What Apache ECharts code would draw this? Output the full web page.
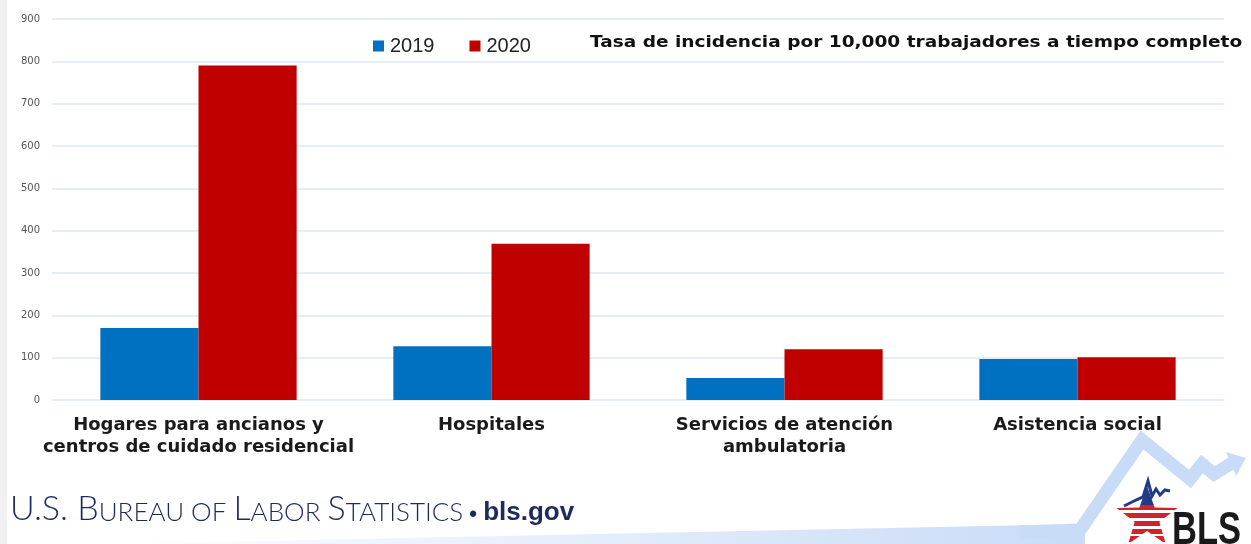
<!DOCTYPE html>
<html><head><meta charset="utf-8">
<script src="https://cdn.jsdelivr.net/npm/echarts@6/dist/echarts.min.js"></script>
<style>html,body{margin:0;padding:0;background:#fff}#c{width:1251px;height:544px}</style>
</head><body><div id="c"></div>
<script>
const categories = ['Hogares para ancianos y\ncentros de cuidado residencial', 'Hospitales', 'Servicios de atención\nambulatoria', 'Asistencia social'];
const values2019 = [170, 127, 52, 97];
const values2020 = [790, 369, 120, 101];
const seriesNames = ['2019', '2020'];
const yTicks = {min: 0, max: 900, interval: 100};
const chartTitle = 'Tasa de incidencia por 10,000 trabajadores a tiempo completo';

function starPoints(cx, cy, R, r) {
  const pts = [];
  for (let i = 0; i < 10; i++) {
    const ang = -Math.PI / 2 + i * Math.PI / 5;
    const rad = i % 2 === 0 ? R : r;
    pts.push([cx + rad * Math.cos(ang), cy + rad * Math.sin(ang)]);
  }
  return pts;
}

const chart = echarts.init(document.getElementById('c'), null, {renderer: 'canvas'});
const stripeStops = [{offset:0,color:'#1f3b8a'},{offset:0.33,color:'#1f3b8a'}];
(function(){
  let o = 0.33, red = true;
  while (o < 1) {
    const n = Math.min(1, o + (red ? 0.09 : 0.045));
    const c = red ? '#d2232a' : '#ffffff';
    stripeStops.push({offset:o,color:c},{offset:n,color:c});
    o = n; red = !red;
  }
})();

const option = {
  backgroundColor: '#ffffff',
  animation: false,
  grid: {left: 52, right: 27, top: 19, bottom: 144, containLabel: false},
  legend: {
    data: seriesNames, left: 368, top: 31, itemWidth: 11, itemHeight: 11, itemGap: 35,
    icon: 'rect',
    textStyle: {fontFamily: 'Liberation Sans', fontSize: 20, color: '#222', padding: [2,0,0,1]}
  },
  xAxis: {
    type: 'category', data: categories,
    axisLine: {show: false}, axisTick: {show: false},
    axisLabel: {interval: 0, margin: 14, fontFamily: 'DejaVu Sans', fontWeight: 'bold', fontSize: 18, color: '#1a1a1a', lineHeight: 22}
  },
  yAxis: {
    type: 'value', min: yTicks.min, max: yTicks.max, interval: yTicks.interval,
    axisLine: {show: false}, axisTick: {show: false},
    axisLabel: {fontFamily: 'DejaVu Sans', fontSize: 10, color: '#555', margin: 12},
    splitLine: {lineStyle: {color: '#dde7f5', width: 1.5}}
  },
  series: [
    {name: seriesNames[0], type: 'bar', data: values2019, barGap: '0%', barCategoryGap: '33%', itemStyle: {color: '#0070c0'}},
    {name: seriesNames[1], type: 'bar', data: values2020, barGap: '0%', barCategoryGap: '33%', itemStyle: {color: '#c00000'}}
  ],
  graphic: [
    {type: 'text', x: 590, y: 36, scaleX: 1.235, style: {text: chartTitle, fontFamily: 'DejaVu Sans', fontWeight: 'bold', fontSize: 15, fill: '#111'}, z: 5},
    {type: 'rect', left: 0, top: 0, shape: {width: 7, height: 544}, style: {fill: '#f1f1f1'}, z: -1},
    {type: 'polygon', shape: {points: [[110,544],[1085,524],[1085,544]]},
      style: {fill: new echarts.graphic.LinearGradient(0,0,1,0,[{offset:0,color:'rgba(200,218,245,0)'},{offset:1,color:'#c8dbf7'}])}, z: 0},
    {type: 'polyline', shape: {points: [[1020,532],[1080,530],[1142,440],[1190,479],[1202,464],[1214,474],[1232,463]]},
      style: {stroke: '#c8dbf7', lineWidth: 13, lineJoin: 'miter', fill: null}, z: 0},
    {type: 'polygon', shape: {points: [[1226,452],[1246,458],[1236,476]]}, style: {fill: '#c8dbf7'}, z: 0},
    {type: 'text', left: 10, top: 492, style: {
      text: '{a|U.S. B}{b|UREAU OF }{a|L}{b|ABOR }{a|S}{b|TATISTICS}{c| • }{d|bls.gov}',
      rich: {
        a: {fontFamily: 'Lato', fontWeight: 300, fontSize: 34, fill: '#1d2a5e', verticalAlign: 'bottom'},
        b: {fontFamily: 'Lato', fontWeight: 300, fontSize: 26, fill: '#1d2a5e', verticalAlign: 'bottom'},
        c: {fontFamily: 'Liberation Sans', fontWeight: 'bold', fontSize: 22, fill: '#1d2a5e', verticalAlign: 'bottom'},
        d: {fontFamily: 'Liberation Sans', fontWeight: 'bold', fontSize: 26, fill: '#1d2a5e', verticalAlign: 'bottom'}
      }}, z: 5},
    {type: 'polygon', shape: {points: starPoints(1147, 518, 32, 13)},
      style: {fill: new echarts.graphic.LinearGradient(0,0,0,1, stripeStops)}, z: 6},
    {type: 'polyline', shape: {points: [[1124,506],[1136,500],[1143,497],[1148,481],[1152,496],[1156,489],[1160,495],[1165,490],[1170,491]]},
      style: {stroke: '#1f3b8a', lineWidth: 3, fill: null}, z: 7},
    {type: 'text', x: 1172, y: 508, scaleX: 0.75, style: {text: 'BLS', fontFamily: 'Liberation Sans', fontWeight: 'bold', fontSize: 46, fill: '#1a1a1a'}, z: 6}
  ]
};
chart.setOption(option);
</script></body></html>
